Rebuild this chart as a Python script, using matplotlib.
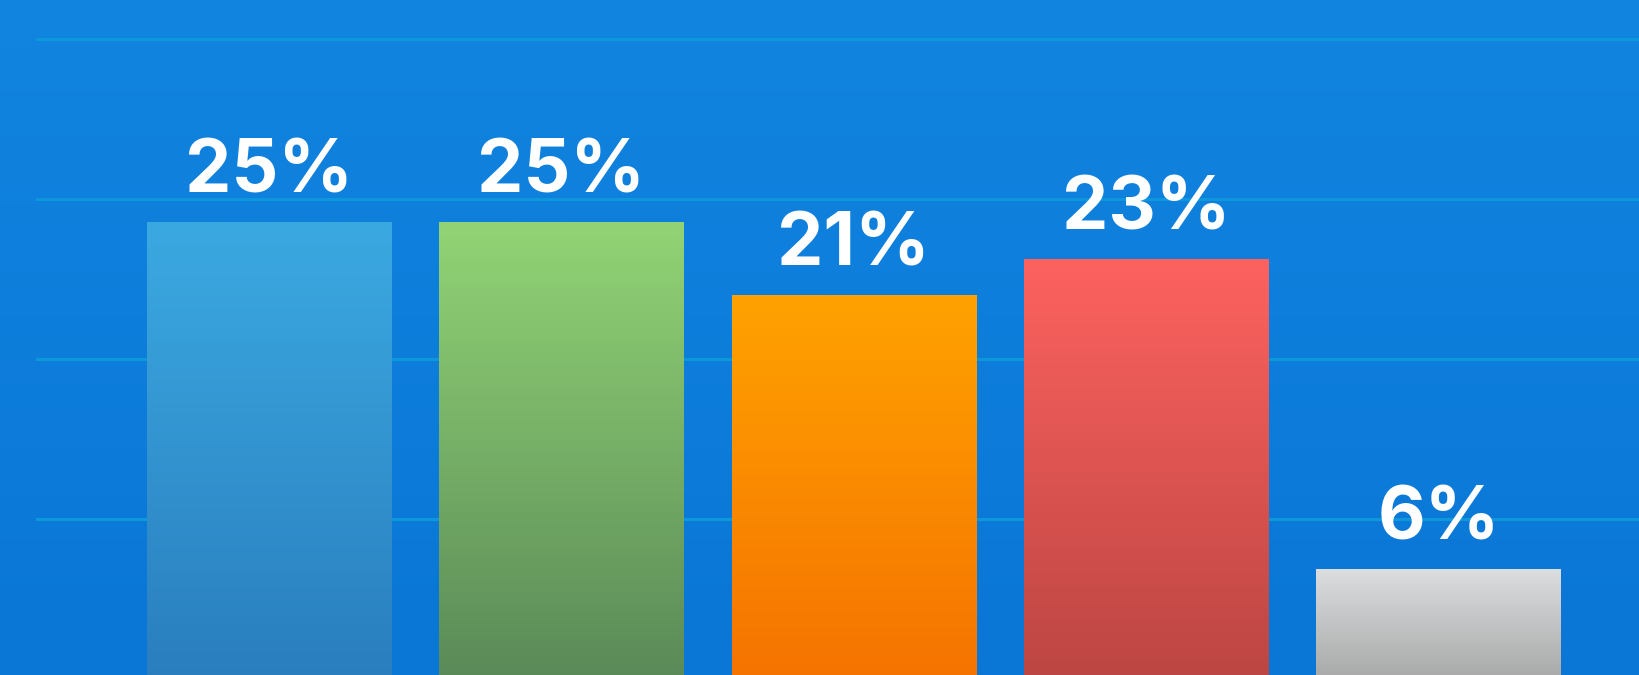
import numpy as np
import matplotlib
matplotlib.use("Agg")
import matplotlib.pyplot as plt
from matplotlib.colors import LinearSegmentedColormap

# ---- data ----
categories = ["A", "B", "C", "D", "E"]
values = [25, 25, 21, 23, 6]
labels = ["25%", "25%", "21%", "23%", "6%"]
top_colors = ["#3BA9E1", "#92D475", "#FFA200", "#FD625F", "#DCDDDF"]
bottom_colors = ["#2A7EBE", "#5A8A58", "#F57300", "#BC4643", "#A8A9A8"]
grid_levels = [8.75, 17.5, 26.25, 35]

plt.rcParams['font.family'] = ['Inter', 'DejaVu Sans']

fig = plt.figure(figsize=(16.39, 6.75), dpi=100)
fig.patch.set_facecolor("#1080DE")
ax = fig.add_axes([0, 0, 1, 1])
ax.set_facecolor("none")

ax.set_xlim(-0.92, 4.686)
ax.set_ylim(0.2, 37.16)
ax.axis("off")

# subtle background gradient
bg = np.linspace(0, 1, 256).reshape(-1, 1)
bg_cmap = LinearSegmentedColormap.from_list("bg", ["#0A76D6", "#1185E0"])
ax.imshow(bg, extent=[-0.92, 4.686, 0.2, 37.16], origin="lower",
          cmap=bg_cmap, aspect="auto", zorder=0)

for g in grid_levels:
    ax.axhline(g, xmin=37 / 1639, xmax=1, color="#0E98DC", lw=2.2, zorder=1)

x = np.arange(len(categories))
width = 0.835
bars = ax.bar(x, values, width=width, color="none", edgecolor="none", zorder=2)

grad = np.linspace(0, 1, 256).reshape(-1, 1)
for i, b in enumerate(bars):
    cmap = LinearSegmentedColormap.from_list(f"c{i}", [bottom_colors[i], top_colors[i]])
    x0 = b.get_x()
    im = ax.imshow(grad, extent=[x0, x0 + b.get_width(), 0, b.get_height()],
                   origin="lower", cmap=cmap, aspect="auto", zorder=3)
    im.set_clip_path(b)
    ax.annotate(labels[i], xy=(b.get_x() + b.get_width() / 2, b.get_height()),
                xytext=(0, 21), textcoords="offset points",
                ha="center", va="baseline", fontsize=53, fontweight="bold",
                color="white", zorder=4)

ax.set_xlim(-0.92, 4.686)
ax.set_ylim(0.2, 37.16)

fig.savefig("out.png", dpi=100, facecolor=fig.get_facecolor())
